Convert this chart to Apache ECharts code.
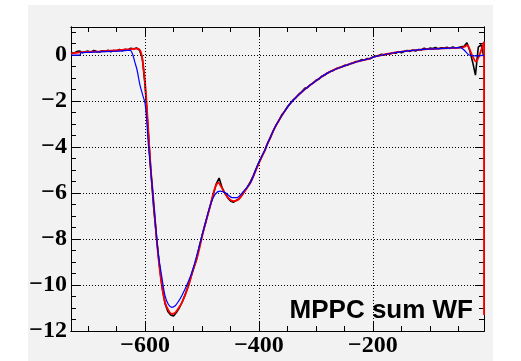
<!DOCTYPE html>
<html>
<head>
<meta charset="utf-8">
<script src="https://cdn.jsdelivr.net/npm/echarts@6/dist/echarts.min.js"></script>
<style>html,body{margin:0;padding:0;background:#fff;}#c{width:521px;height:361px;}</style>
</head>
<body>
<div id="c"></div>
<script>
const XMIN = -730, XMAX = -5, YMIN = -12, YMAX = 1.22;
const xMajor = [-600, -400, -200];
const xMinor = [-700, -650, -550, -500, -450, -350, -300, -250, -150, -100, -50];
const yMajor = [-12, -10, -8, -6, -4, -2, 0];
const yMinor = [-11.5, -11, -10.5, -9.5, -9, -8.5, -7.5, -7, -6.5, -5.5, -5, -4.5, -3.5, -3, -2.5, -1.5, -1, -0.5, 0.5, 1];
const titleText = 'MPPC sum WF';

// black: measured waveform (histogram)
const dataX = [];
for (let i = 0; i < 146; i++) dataX.push(-730 + 5 * i);
const dataY = [
  0.12, 0.08, 0.15, 0.18, 0.10, 0.14, 0.17, 0.12, 0.20, 0.15,
  0.13, 0.19, 0.16, 0.21, 0.14, 0.20, 0.18, 0.24, 0.19, 0.25,
  0.22, 0.30, 0.26, 0.31, 0.22, -0.10, -1.30, -3.10, -5.00, -6.60,
  -7.90, -9.10, -10.10, -10.80, -11.15, -11.30, -11.35, -11.20, -11.00, -10.75,
  -10.45, -10.10, -9.70, -9.30, -8.90, -8.35, -7.85, -7.40, -6.95, -6.50,
  -6.05, -5.60, -5.35, -5.75, -6.00, -6.20, -6.35, -6.40, -6.32, -6.25,
  -6.10, -5.90, -5.72, -5.50, -5.25, -4.95, -4.68, -4.40, -4.15, -3.85,
  -3.60, -3.30, -3.05, -2.85, -2.60, -2.45, -2.25, -2.10, -1.95, -1.85,
  -1.70, -1.60, -1.45, -1.42, -1.30, -1.22, -1.10, -1.05, -0.92, -0.88,
  -0.78, -0.72, -0.68, -0.60, -0.55, -0.52, -0.45, -0.44, -0.38, -0.35,
  -0.28, -0.27, -0.20, -0.22, -0.15, -0.16, -0.08, -0.05, -0.02, 0.03,
  0.00, 0.06, 0.05, 0.10, 0.08, 0.14, 0.10, 0.15, 0.20, 0.16,
  0.22, 0.18, 0.24, 0.22, 0.30, 0.25, 0.30, 0.28, 0.33, 0.27,
  0.32, 0.30, 0.34, 0.29, 0.35, 0.31, 0.33, 0.36, 0.38, 0.53,
  0.20, -0.30, -0.87, 0.35, 0.45, -0.10
];

// red: fit curve
const redX = [-730, -715, -700, -680, -660, -640, -625, -615, -610, -607, -604, -600, -597, -594, -590, -586.5, -582, -577, -571, -565,
  -559, -553, -547, -541, -535, -524, -516, -509, -497, -486, -480, -476, -471, -467, -462, -456, -450, -444, -436, -427,
  -415, -400, -389, -386, -371, -357, -342, -321, -298, -275, -251, -228, -204, -198, -163, -134, -104, -75, -46, -40,
  -34, -31, -26, -19, -13, -8, -5, -5];
const redY = [0.07, 0.12, 0.14, 0.16, 0.19, 0.22, 0.26, 0.28, 0.25, 0.10, -0.30, -1.20, -2.20, -3.40, -4.95, -5.95, -7.30, -8.70, -9.95, -10.75,
  -11.10, -11.26, -11.20, -11.00, -10.75, -10.05, -9.35, -8.85, -7.60, -6.60, -6.00, -5.70, -5.55, -5.70, -5.92, -6.15, -6.30, -6.35, -6.28, -5.99,
  -5.55, -4.69, -4.11, -3.90, -3.10, -2.52, -2.02, -1.52, -1.08, -0.72, -0.48, -0.29, -0.14, -0.07, 0.10, 0.19, 0.26, 0.29, 0.32, 0.35,
  0.43, 0.30, 0.00, -0.29, 0.00, 0.35, 0.58, -11.30];

// blue: model curve
const blueX = [-730, -714, -713, -700, -680, -660, -640, -630, -626, -622, -618, -614, -609, -604, -600, -597, -594, -590, -586.5, -582,
  -577, -570, -565, -559, -553, -547, -541, -535, -524, -515, -497, -486, -477, -468, -459, -447, -439, -427, -415, -401,
  -389, -386, -371, -357, -342, -321, -298, -275, -251, -228, -204, -198, -163, -134, -104, -75, -46, -40, -31, -19, -5];
const blueY = [0.00, 0.00, 0.10, 0.12, 0.14, 0.16, 0.18, 0.20, 0.20, 0.05, -0.30, -0.65, -1.30, -1.75, -2.10, -2.90, -3.95, -4.98, -5.97, -7.25,
  -8.60, -9.74, -10.46, -10.85, -10.97, -10.90, -10.70, -10.45, -9.85, -9.23, -7.58, -6.57, -6.06, -5.92, -5.99, -6.20, -6.20, -5.92, -5.55, -4.69,
  -4.11, -3.90, -3.10, -2.52, -2.02, -1.52, -1.08, -0.72, -0.48, -0.29, -0.14, -0.08, 0.10, 0.19, 0.26, 0.29, 0.32, 0.22, 0.00, -0.04, 0.00];

const zip = (xs, ys) => xs.map((x, i) => [x, ys[i]]);
const minus = v => String(v).replace('-', '\u2212');
const labelFont = { fontFamily: 'Liberation Serif', fontWeight: 'bold', fontSize: 24, color: '#000' };

function xAx(pos, ticks, len, labels) {
  return {
    type: 'value', min: XMIN, max: XMAX, position: pos,
    axisLine: { show: true, onZero: false, lineStyle: { color: '#000', width: 1 } },
    axisTick: { show: true, inside: true, length: len, customValues: ticks, lineStyle: { color: '#000', width: 1 } },
    axisLabel: Object.assign({ show: labels, customValues: ticks, margin: 3, formatter: minus }, labelFont),
    splitLine: { show: false }
  };
}
function yAx(pos, ticks, len, labels) {
  return {
    type: 'value', min: YMIN, max: YMAX, position: pos,
    axisLine: { show: true, onZero: false, lineStyle: { color: '#000', width: 1 } },
    axisTick: { show: true, inside: true, length: len, customValues: ticks, lineStyle: { color: '#000', width: 1 } },
    axisLabel: Object.assign({ show: labels, customValues: ticks, margin: 4, formatter: minus }, labelFont),
    splitLine: { show: false }
  };
}

const gridLines = xMajor.map(v => ({ xAxis: v })).concat(yMajor.filter(v => v > YMIN).map(v => ({ yAxis: v })));

const chart = echarts.init(document.getElementById('c'), null, { renderer: 'canvas' });
chart.setOption({
  animation: false,
  backgroundColor: '#ffffff',
  graphic: [
    { type: 'rect', z: -10, shape: { x: 28, y: 5, width: 465, height: 356 }, style: { fill: '#f2f2f2' }, silent: true },
    { type: 'text', z: 100, style: { text: titleText, x: 473, y: 311, align: 'right', verticalAlign: 'middle',
      font: 'bold 26px "Liberation Sans", Arial, sans-serif', fill: '#000' } }
  ],
  grid: { left: 71, right: 37, top: 27, bottom: 30, containLabel: false, show: false },
  xAxis: [
    xAx('bottom', xMajor, 9, true),
    xAx('bottom', xMinor, 5, false),
    xAx('top', xMajor, 9, false),
    xAx('top', xMinor, 5, false)
  ],
  yAxis: [
    yAx('left', yMajor, 9, true),
    yAx('left', yMinor, 5, false),
    yAx('right', yMajor, 9, false),
    yAx('right', yMinor, 5, false)
  ],
  series: [
    {
      type: 'line', xAxisIndex: 0, yAxisIndex: 0, data: [], showSymbol: false, z: 1,
      markLine: { silent: true, symbol: 'none', label: { show: false }, animation: false,
        lineStyle: { color: '#000', width: 1, type: [1, 2] }, data: gridLines }
    },
    { type: 'line', name: 'data', data: zip(dataX, dataY), showSymbol: false, symbol: 'none', z: 3,
      lineStyle: { color: '#000', width: 1.6 } },
    { type: 'line', name: 'fit', data: zip(redX, redY), showSymbol: false, symbol: 'none', smooth: 0.3, z: 4, clip: false,
      lineStyle: { color: '#ff0000', width: 1.8 } },
    { type: 'line', name: 'model', data: zip(blueX, blueY), showSymbol: false, symbol: 'none', smooth: 0.3, z: 5,
      lineStyle: { color: '#0000ff', width: 1.2 } }
  ]
});
</script>
</body>
</html>
